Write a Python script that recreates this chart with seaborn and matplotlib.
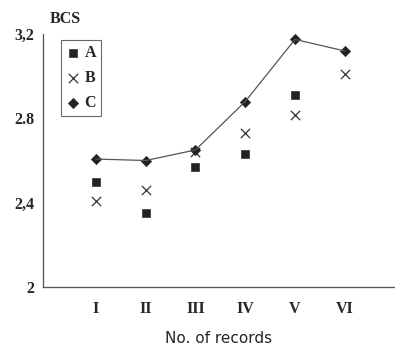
import pandas as pd
import seaborn as sns
import matplotlib.pyplot as plt

records = ['I', 'II', 'III', 'IV', 'V', 'VI']
pos = [1, 2, 3, 4, 5, 6]
bcs_a = [2.50, 2.35, 2.57, 2.63, 2.91, None]
bcs_b = [2.41, 2.46, 2.64, 2.73, 2.815, 3.01]
bcs_c = [2.607, 2.60, 2.65, 2.88, 3.175, 3.12]

df = pd.DataFrame({'pos': pos, 'A': bcs_a, 'B': bcs_b, 'C': bcs_c})

sns.set_style('white')
plt.rcParams['font.family'] = ['Liberation Serif', 'DejaVu Serif']

fig = plt.figure(figsize=(3.95, 3.52), dpi=100)
ax = fig.add_axes([0.109, 0.185, 0.89, 0.718])

sns.lineplot(x='pos', y='C', data=df, ax=ax, color='#555555', linewidth=0.9)
sns.scatterplot(x='pos', y='A', data=df, ax=ax, marker='s', s=30, color='#222222',
                edgecolor='#222222', label='A')
sns.scatterplot(x='pos', y='B', data=df, ax=ax, marker='x', s=45, color='#333333',
                linewidth=0.9, label='B')
sns.scatterplot(x='pos', y='C', data=df, ax=ax, marker='D', s=28, color='#222222',
                edgecolor='#222222', label='C')

ax.set_xlim(-0.06, 7)
ax.set_ylim(2, 3.2)
ax.set_yticks([2, 2.4, 2.8, 3.2])
ax.set_yticklabels(['2', '2,4', '2.8', '3,2'], fontweight='bold', fontsize=11.5)
ax.set_xticks(pos)
ax.set_xticklabels(records, fontweight='bold', fontsize=11.5)
ax.tick_params(axis='both', length=3, width=0.8, color='#555555', pad=7)
ax.tick_params(axis='y', pad=3)
for s in ['top', 'right']:
    ax.spines[s].set_visible(False)
for s in ['left', 'bottom']:
    ax.spines[s].set_color('#555555')
    ax.spines[s].set_linewidth(0.9)
    ax.spines[s].set_linestyle((0, (1, 0.6)))

ax.set_xlabel('No. of records', family='DejaVu Sans', fontsize=11, labelpad=10)
ax.set_ylabel('')
ax.text(0.02, 1.03, 'BCS', transform=ax.transAxes, fontweight='bold', fontsize=11.5,
        ha='left', va='bottom')

leg = ax.legend(loc='upper left', bbox_to_anchor=(0.05, 0.975), frameon=True,
                fancybox=False, edgecolor='#444444', fontsize=11.5, handletextpad=0.2,
                borderpad=0.3, labelspacing=0.55, handlelength=1.0, borderaxespad=0)
leg.get_frame().set_linewidth(0.8)
for t in leg.get_texts():
    t.set_fontweight('bold')

fig.savefig('out.png', dpi=100)
